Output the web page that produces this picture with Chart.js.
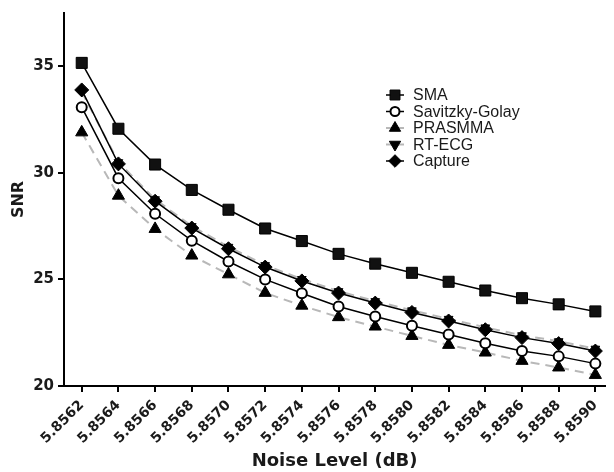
<!DOCTYPE html>
<html>
<head>
<meta charset="utf-8">
<script src="https://cdn.jsdelivr.net/npm/chart.js@4/dist/chart.umd.min.js"></script>
<style>
  html, body { margin: 0; padding: 0; background: #fff; }
  canvas { display: block; }
</style>
</head>
<body>
<canvas id="snrChart" width="614" height="472"></canvas>
<script>
const noiseLevels = [5.8562, 5.8564, 5.8566, 5.8568, 5.8570, 5.8572, 5.8574, 5.8576,
                     5.8578, 5.8580, 5.8582, 5.8584, 5.8586, 5.8588, 5.8590];
const tickLabels = ["5.8562", "5.8564", "5.8566", "5.8568", "5.8570", "5.8572", "5.8574", "5.8576",
                    "5.8578", "5.8580", "5.8582", "5.8584", "5.8586", "5.8588", "5.8590"];
const yTicks = [20, 25, 30, 35];

const smaValues     = [35.16, 32.07, 30.39, 29.20, 28.27, 27.39, 26.80, 26.20, 25.74, 25.31, 24.89, 24.48, 24.12, 23.83, 23.50];
const sgValues      = [33.08, 29.75, 28.08, 26.82, 25.84, 25.00, 24.35, 23.73, 23.26, 22.83, 22.42, 22.01, 21.64, 21.39, 21.05];
const prasmmaValues = [31.90, 28.93, 27.37, 26.12, 25.24, 24.37, 23.77, 23.23, 22.79, 22.35, 21.93, 21.57, 21.18, 20.87, 20.52];
const rtecgValues   = [33.80, 30.50, 28.76, 27.50, 26.53, 25.67, 25.02, 24.45, 23.98, 23.55, 23.15, 22.75, 22.38, 22.10, 21.75];
const captureValues = [33.89, 30.42, 28.67, 27.41, 26.44, 25.58, 24.93, 24.36, 23.89, 23.45, 23.05, 22.64, 22.27, 21.99, 21.64];

const GRAY = "#b8b8b8";
const INK = "#1a1a1a";
const BOLD = "'DejaVu Sans', sans-serif";

function toPoints(values) {
    return values.map((v, i) => ({ x: noiseLevels[i], y: v }));
}

const datasets = [
    {
        label: "SMA", data: toPoints(smaValues), order: 4,
        borderColor: "#000", borderWidth: 1.5,
        pointStyle: "rect", pointRadius: 7.8, pointBackgroundColor: "#111", pointBorderColor: "#000", pointBorderWidth: 1
    },
    {
        label: "Savitzky-Golay", data: toPoints(sgValues), order: 3,
        borderColor: "#000", borderWidth: 1.5,
        pointStyle: "circle", pointRadius: 5, pointBackgroundColor: "#fff", pointBorderColor: "#000", pointBorderWidth: 2
    },
    {
        label: "PRASMMA", data: toPoints(prasmmaValues), order: 5,
        borderColor: GRAY, borderWidth: 2, borderDash: [9, 6],
        pointStyle: "triangle", pointRadius: 7, pointBackgroundColor: "#000", pointBorderColor: "#000", pointBorderWidth: 1
    },
    {
        label: "RT-ECG", data: toPoints(rtecgValues), order: 2,
        borderColor: GRAY, borderWidth: 2, borderDash: [9, 6],
        pointStyle: "triangle", pointRotation: 180, pointRadius: 5, pointBackgroundColor: "#000", pointBorderColor: "#000", pointBorderWidth: 1
    },
    {
        label: "Capture", data: toPoints(captureValues), order: 1,
        borderColor: "#000", borderWidth: 1.5,
        pointStyle: "rectRot", pointRadius: 7, pointBackgroundColor: "#000", pointBorderColor: "#000", pointBorderWidth: 1
    }
];

// legend drawn inside the plot, with a short line through each marker
const insideLegend = {
    id: "insideLegend",
    afterDraw(chart) {
        const ctx = chart.ctx;
        chart.data.datasets.forEach((ds, i) => {
            const y = 95 + i * 16.5;
            const x = 395;
            ctx.save();
            ctx.strokeStyle = ds.borderColor;
            ctx.lineWidth = ds.borderWidth;
            ctx.beginPath();
            ctx.moveTo(386, y);
            ctx.lineTo(404, y);
            ctx.stroke();
            ctx.fillStyle = ds.pointBackgroundColor;
            ctx.strokeStyle = ds.pointBorderColor;
            ctx.lineWidth = ds.pointBorderWidth;
            Chart.helpers.drawPoint(ctx, {
                pointStyle: ds.pointStyle,
                rotation: ds.pointRotation || 0,
                radius: ds.pointStyle === "triangle" ? 6.5 : ds.pointRadius * 0.9,
                borderWidth: ds.pointBorderWidth
            }, x, y);
            ctx.fillStyle = INK;
            ctx.font = "16px 'Liberation Sans', Arial, sans-serif";
            ctx.textBaseline = "middle";
            ctx.textAlign = "left";
            ctx.fillText(ds.label, 413, y + 1);
            ctx.restore();
        });
    }
};

new Chart(document.getElementById("snrChart"), {
    type: "line",
    data: { datasets: datasets },
    options: {
        responsive: false,
        animation: false,
        layout: { padding: { top: 13, right: 0, bottom: 0, left: 0 } },
        elements: { line: { tension: 0 } },
        plugins: { legend: { display: false }, tooltip: { enabled: false } },
        scales: {
            x: {
                type: "linear",
                min: 5.8561034,
                max: 5.8590536,
                afterBuildTicks: scale => { scale.ticks = noiseLevels.map(v => ({ value: v })); },
                afterFit: scale => { scale.height = 86; },
                ticks: {
                    autoSkip: false,
                    minRotation: 45,
                    maxRotation: 45,
                    padding: 5,
                    color: INK,
                    font: { family: BOLD, weight: "bold", size: 14 },
                    callback: (value, index) => tickLabels[index]
                },
                grid: { drawOnChartArea: false, color: "#000", lineWidth: 2, tickLength: 6 },
                border: { color: "#000", width: 2 },
                title: {
                    display: true,
                    text: "Noise Level (dB)",
                    color: INK,
                    font: { family: BOLD, weight: "bold", size: 18 },
                    padding: { top: 0, bottom: 0 }
                }
            },
            y: {
                min: 20,
                max: 37.5,
                afterBuildTicks: scale => { scale.ticks = yTicks.map(v => ({ value: v })); },
                afterFit: scale => { scale.width = 64; },
                ticks: {
                    padding: 4,
                    color: INK,
                    font: { family: BOLD, weight: "bold", size: 15 }
                },
                grid: { drawOnChartArea: false, color: "#000", lineWidth: 2, tickLength: 6 },
                border: { color: "#000", width: 2 },
                title: {
                    display: true,
                    text: "SNR",
                    color: INK,
                    font: { family: BOLD, weight: "bold", size: 16 },
                    padding: { top: 9, bottom: 0 }
                }
            }
        }
    },
    plugins: [insideLegend]
});
</script>
</body>
</html>
